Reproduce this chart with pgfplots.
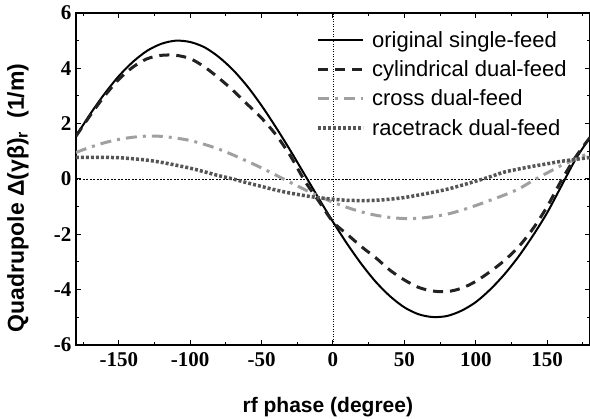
\documentclass[border=0pt]{standalone}
\usepackage{fontspec}
\setmainfont{Liberation Serif}
\setsansfont{Liberation Sans}
\usepackage{pgfplots}
\pgfplotsset{compat=1.18}
\definecolor{cylblack}{HTML}{222222}
\definecolor{crossgray}{HTML}{A0A0A0}
\definecolor{racegray}{HTML}{555555}

\begin{document}
\begin{tikzpicture}
\begin{axis}[
    at={(0pt,0pt)}, anchor=south west,
    scale only axis, width=514pt, height=332pt,
    xmin=-180, xmax=180, ymin=-6, ymax=6,
    xtick={-150,-100,...,150}, minor xtick={-175,-125,...,175},
    ytick={-6,-4,...,6}, minor ytick={-5,-3,...,5},
    tick align=inside, major tick length=5pt, minor tick length=3pt,
    every tick/.style={black, line width=1pt},
    axis line style={line width=1.4pt},
    /pgf/number format/assume math mode=true,
    tick label style={font=\fontsize{21}{22}\selectfont\bfseries},
    xticklabel style={yshift=-4pt},
    yticklabel style={xshift=-1pt},
    xlabel={rf phase (degree)},
    ylabel={Quadrupole Δ(γβ)\textsubscript{r}\ \ (1/m)},
    label style={font=\sffamily\bfseries\fontsize{21}{22}\selectfont},
    x label style={at={(axis description cs:0.49,0)}, anchor=base, yshift=-68pt},
    y label style={at={(axis description cs:0,0.443)}, anchor=center, yshift=58pt,
        font=\sffamily\bfseries\fontsize{23}{24}\selectfont},
    legend style={at={(rel axis cs:0.462,0.955)}, anchor=north west, draw=none, fill=none,
        font=\sffamily\fontsize{22}{23}\selectfont, row sep=10pt,
        nodes={inner xsep=7pt, inner ysep=1pt}},
    legend cell align=left,
    legend image code/.code={\draw[#1] (0pt,0pt) -- (45pt,0pt);},
]
\addplot[black, line width=0.6pt, dash pattern=on 2pt off 1.5pt, forget plot] coordinates {(-180,0) (180,0)};
\addplot[black, line width=0.6pt, dash pattern=on 1pt off 1.5pt, forget plot] coordinates {(0,-6) (0,6)};

\addplot[black, line width=2pt, smooth] coordinates {
(-180,1.55) (-170,2.35) (-160,3.08) (-150,3.72) (-140,4.24) (-130,4.64) (-120,4.89)
(-110,5.00) (-100,4.95) (-90,4.76) (-80,4.41) (-70,3.94) (-60,3.35) (-50,2.65)
(-40,1.87) (-30,1.04) (-20,0.17) (-10,-0.70) (0,-1.55) (10,-2.35) (20,-3.08)
(30,-3.72) (40,-4.24) (50,-4.64) (60,-4.89) (70,-4.99) (80,-4.95) (90,-4.76)
(100,-4.45) (110,-4.00) (120,-3.45) (130,-2.80) (140,-2.05) (150,-1.22) (160,-0.25)
(170,0.72) (180,1.50)
};
\addlegendentry{original single-feed}

\addplot[cylblack, line width=3pt, dash pattern=on 10pt off 7pt, smooth] coordinates {
(-180,1.55) (-170,2.30) (-160,3.00) (-150,3.60) (-140,4.05) (-130,4.35) (-120,4.47)
(-110,4.47) (-100,4.35) (-90,4.05) (-80,3.65) (-70,3.20) (-60,2.70) (-50,2.20)
(-40,1.60) (-30,0.85) (-20,-0.05) (-10,-0.80) (0,-1.55) (10,-2.00) (20,-2.45)
(30,-2.85) (40,-3.30) (50,-3.65) (60,-3.92) (70,-4.05) (80,-4.07) (90,-3.95)
(100,-3.70) (110,-3.35) (120,-2.95) (130,-2.45) (140,-1.80) (150,-1.00) (160,-0.05)
(170,0.80) (180,1.50)
};
\addlegendentry{cylindrical dual-feed}

\addplot[crossgray, line width=3pt, dash pattern=on 11pt off 6pt on 3pt off 6pt, smooth] coordinates {
(-180,0.96) (-170,1.15) (-160,1.31) (-150,1.43) (-140,1.51) (-130,1.55) (-120,1.54)
(-110,1.48) (-100,1.39) (-90,1.25) (-80,1.08) (-70,0.87) (-60,0.64) (-50,0.40)
(-40,0.14) (-30,-0.12) (-20,-0.38) (-10,-0.62) (0,-0.84) (10,-1.03) (20,-1.19)
(30,-1.31) (40,-1.39) (50,-1.43) (60,-1.42) (70,-1.36) (80,-1.27) (90,-1.13)
(100,-0.96) (110,-0.77) (120,-0.58) (130,-0.36) (140,-0.06) (150,0.22) (160,0.49)
(170,0.72) (180,0.96)
};
\addlegendentry{cross dual-feed}

\addplot[racegray, line width=3.5pt, dash pattern=on 3pt off 2pt, smooth] coordinates {
(-180,0.78) (-170,0.78) (-160,0.78) (-150,0.77) (-140,0.73) (-130,0.68) (-120,0.60)
(-110,0.50) (-100,0.39) (-90,0.26) (-80,0.12) (-70,0.00) (-60,-0.14) (-50,-0.27)
(-40,-0.40) (-30,-0.51) (-20,-0.60) (-10,-0.68) (0,-0.73) (10,-0.77) (20,-0.78)
(30,-0.77) (40,-0.73) (50,-0.67) (60,-0.58) (70,-0.48) (80,-0.37) (90,-0.23)
(100,-0.08) (110,0.08) (120,0.25) (130,0.36) (140,0.46) (150,0.55) (160,0.64)
(170,0.71) (180,0.78)
};
\addlegendentry{racetrack dual-feed}
\end{axis}
\pgfresetboundingbox
\path (-76pt,-74pt) rectangle (514pt,345pt);
\end{tikzpicture}
\end{document}
